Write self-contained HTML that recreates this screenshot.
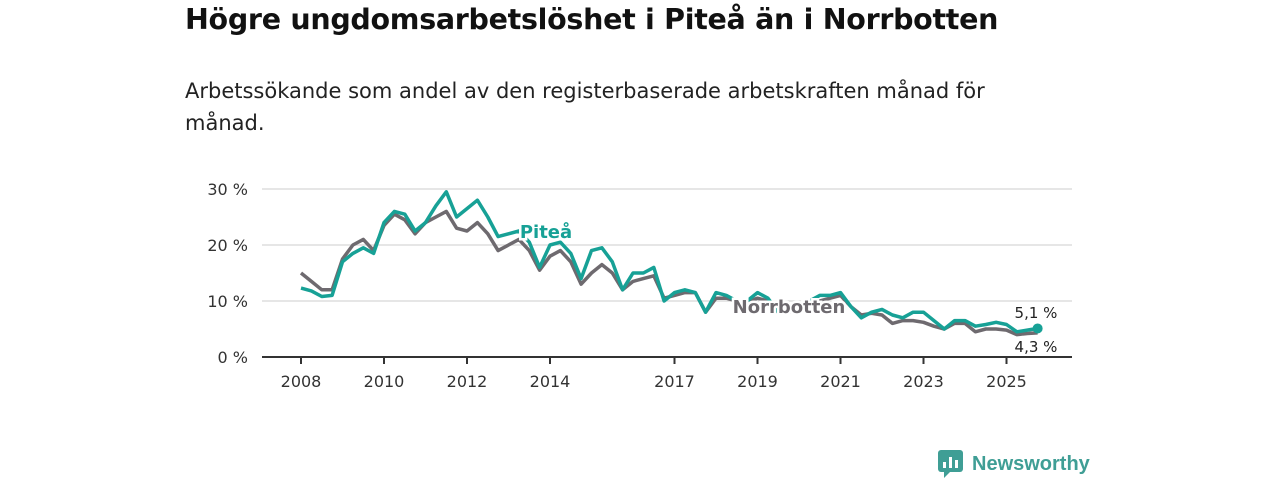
<!DOCTYPE html>
<html><head><meta charset="utf-8"><style>
body{margin:0;width:1280px;height:480px;background:#fff;font-family:"DejaVu Sans","Liberation Sans",sans-serif;overflow:hidden;position:relative}
h1{position:absolute;left:185px;top:3px;margin:0;font-size:28.5px;font-weight:bold;color:#111;letter-spacing:-0.3px}
.sub{position:absolute;left:185px;top:75px;width:840px;font-size:21px;line-height:32px;color:#222}
svg{position:absolute;left:0;top:0}
</style></head><body>
<h1>Högre ungdomsarbetslöshet i Piteå än i Norrbotten</h1>
<div class="sub">Arbetssökande som andel av den registerbaserade arbetskraften månad för månad.</div>
<svg width="1280" height="480" id="c"></svg>
<script>
const startYear=2008, step=0.25;
const pitea=[12.3,11.8,10.8,11,17,18.5,19.5,18.5,24,26,25.5,22.5,24,27,29.5,25,26.5,28,25,21.5,22,22.5,20.5,16,20,20.5,18.5,14,19,19.5,17,12,15,15,16,10,11.5,12,11.5,8,11.5,11,10,10,11.5,10.5,8,8.5,9,10,11,11,11.5,9,7,8,8.5,7.5,7,8,8,6.5,5,6.5,6.5,5.5,5.8,6.2,5.8,4.5,4.8,5.1];
const norr=[15,13.5,12,12,17.5,20,21,19,23.5,25.5,24.5,22,24,25,26,23,22.5,24,22,19,20,21,19,15.5,18,19,17,13,15,16.5,15,12,13.5,14,14.5,10.5,11,11.5,11.5,8,10.5,10.5,10,9.8,10.5,10,8,8,8.5,9.5,10,10.5,11,9,7.5,7.8,7.5,6,6.5,6.5,6.2,5.5,5,6,6,4.5,5,5,4.8,4,4.2,4.3];
const yTicks=[0,10,20,30];
const xTicks=[2008,2010,2012,2014,2017,2019,2021,2023,2025];
const X=t=>301+(t-2008)*41.5, Y=v=>357-v*5.6;
const svg=document.getElementById('c'),NS='http://www.w3.org/2000/svg';
function mk(tag,a,txt){const e=document.createElementNS(NS,tag);for(const k in a)e.setAttribute(k,a[k]);if(txt!==undefined)e.textContent=txt;svg.appendChild(e);return e;}
yTicks.forEach(v=>{
  if(v>0){const g=mk('line',{x1:262,x2:1072,y1:Y(v),y2:Y(v),stroke:'#d6d6d6','stroke-width':1.3});
  
  }
  const t=mk('text',{x:248,y:Y(v)+6,'text-anchor':'end','font-size':16,fill:'#333'},v+' %');
  
  
});
const ax=mk('line',{x1:262,x2:1072,y1:357,y2:357,stroke:'#333','stroke-width':2});


xTicks.forEach(yr=>{
  mk('line',{x1:X(yr),x2:X(yr),y1:357,y2:364,stroke:'#333','stroke-width':2});
  const t=mk('text',{x:X(yr),y:387,'text-anchor':'middle','font-size':16,fill:'#333'},yr);
  
  
});
function line(d,col,name){const p=d.map((v,i)=>(i?'L':'M')+X(startYear+i*step).toFixed(1)+','+Y(v).toFixed(1)).join('');
  const e=mk('path',{d:p,fill:'none',stroke:col,'stroke-width':3.5,'stroke-linejoin':'round'});
  
  }
line(norr,'#6e6a6f','norrbotten-line');
line(pitea,'#17a196','pitea-line');
const last=pitea.length-1;
const d1=mk('circle',{cx:X(startYear+last*step),cy:Y(pitea[last]),r:5,fill:'#17a196'});


const l1=mk('text',{x:546,y:238,'text-anchor':'middle','font-size':18,'font-weight':'bold',fill:'#17a196',stroke:'#fff','stroke-width':5,'paint-order':'stroke'},'Piteå');


const l2=mk('text',{x:789,y:313,'text-anchor':'middle','font-size':18,'font-weight':'bold',fill:'#6e6a6f',stroke:'#fff','stroke-width':5,'paint-order':'stroke'},'Norrbotten');


const v1=mk('text',{x:1036,y:318,'text-anchor':'middle','font-size':15,fill:'#222'},pitea[last].toString().replace('.',',')+' %');


const v2=mk('text',{x:1036,y:352,'text-anchor':'middle','font-size':15,fill:'#222',stroke:'#fff','stroke-width':4,'paint-order':'stroke'},norr[last].toString().replace('.',',')+' %');


</script>
<svg width="1280" height="480">
<rect x="938" y="450" width="25" height="22" rx="3" fill="#3f9e95"/>
<polygon points="944,470 952,470 944,478" fill="#3f9e95"/>
<rect x="943" y="462" width="3" height="6" fill="#fff"/><rect x="949" y="457" width="3" height="11" fill="#fff"/><rect x="955" y="460" width="3" height="8" fill="#fff"/>
<text x="972" y="470" font-size="20" font-weight="bold" fill="#3f9e95" font-family="Liberation Sans, sans-serif">Newsworthy</text>
</svg>
</body></html>
